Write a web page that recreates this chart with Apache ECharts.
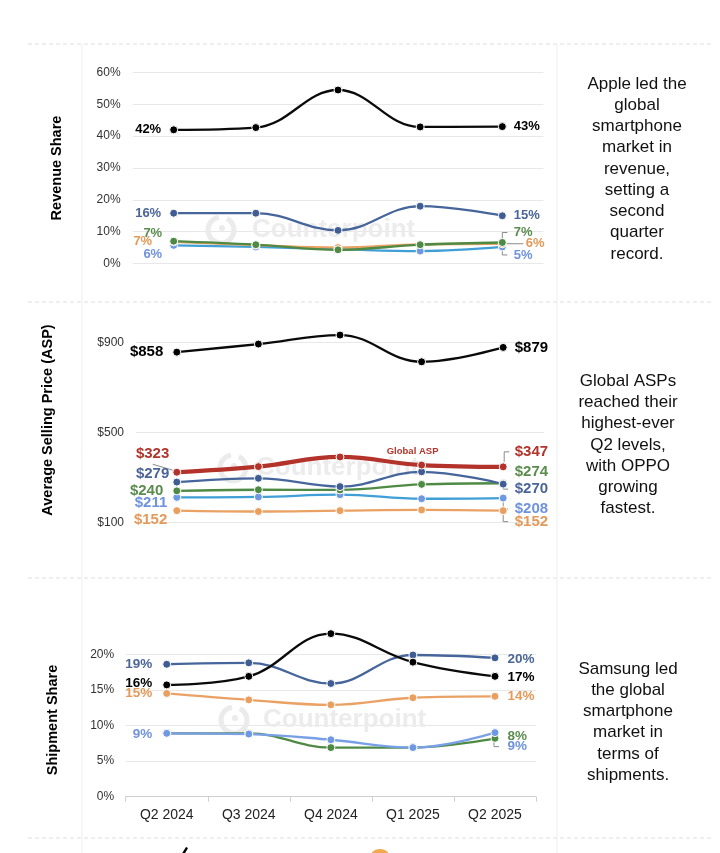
<!DOCTYPE html>
<html><head><meta charset="utf-8">
<script src="https://cdn.jsdelivr.net/npm/echarts@6/dist/echarts.min.js"></script>
<style>html,body{margin:0;padding:0;background:#fff}#c{width:720px;height:853px}</style>
</head><body><div id="c"></div>
<script>
// ---------------- DATA ----------------
const quarters = ['Q2 2024', 'Q3 2024', 'Q4 2024', 'Q1 2025', 'Q2 2025'];

// Revenue share (%)
const appleRev   = [42, 42.7, 54.5, 42.9, 43];
const samsungRev = [15.8, 15.8, 10.4, 18.0, 15.0];
const oppoRev    = [7.0, 5.9, 4.3, 5.9, 6.6];
const xiaomiRev  = [6.8, 5.8, 5.0, 6.0, 6.2];
const vivoRev    = [5.7, 5.2, 4.5, 3.9, 5.2];

// Average selling price (US$)
const appleAsp   = [858, 894, 934, 815, 879];
const globalAsp  = [323, 348, 391, 355, 347];
const samsungAsp = [279, 296, 259, 325, 270];
const oppoAsp    = [240, 245, 244, 269, 274];
const vivoAsp    = [211, 213, 223, 205, 208];
const xiaomiAsp  = [152, 148, 152, 155, 152];

// Shipment share (%)
const appleShip   = [15.7, 16.9, 22.9, 18.9, 16.9];
const samsungShip = [18.6, 18.8, 15.9, 19.9, 19.5];
const xiaomiShip  = [14.5, 13.6, 12.9, 13.9, 14.1];
const vivoShip    = [8.9, 8.8, 8.0, 6.9, 9.0];
const oppoShip    = [8.9, 8.9, 6.9, 6.9, 8.2];

// Tick labels
const revTicks  = { min: 0, max: 60, interval: 10 };
const aspTicks  = { min: 100, max: 900, interval: 400 };
const shipTicks = { min: 0, max: 20, interval: 5 };

// ---------------- STYLE ----------------
const FONT = 'Liberation Sans, Arial, sans-serif';
const COL = {
  apple:   { line: '#0a0a0a', dot: '#000000', text: '#000000' },
  samsung: { line: '#46659b', dot: '#3f5d92', text: '#4a6596' },
  xiaomi:  { line: '#eaa264', dot: '#e99f5e', text: '#e39a5a' },
  vivo:    { line: '#3f9fd6', dot: '#6f98e2', text: '#6f93dc' },
  vivoB:   { line: '#79a0e6', dot: '#6f98e2', text: '#6f93dc' },
  oppo:    { line: '#4f8a45', dot: '#4f8a45', text: '#5a8c4e' },
  global:  { line: '#b3322a', dot: '#b3322a', text: '#b0352c' }
};

const chart = echarts.init(document.getElementById('c'), null, { renderer: 'canvas' });
const series = [];
const idx = {};

function pctFmt(p) { return Math.round(p.value) + '%'; }
function usdFmt(p) { return '$' + Math.round(p.value); }

// lab: {L:[distance,dx,dy], R:[distance,dx,dy]}
function add(id, grid, values, col, lab, fs, fmt, extra) {
  const data = values.map((v, i) => {
    const item = { value: v };
    let spec = null, pos = null;
    if (i === 0 && lab.L) { spec = lab.L; pos = 'left'; }
    if (i === values.length - 1 && lab.R) { spec = lab.R; pos = 'right'; }
    if (spec) {
      item.label = {
        show: true, position: pos, distance: spec[0], offset: [spec[1], spec[2]],
        color: col.text, fontWeight: 'bold', fontSize: fs, fontFamily: FONT, formatter: fmt
      };
    }
    return item;
  });
  idx[id] = series.length;
  series.push(Object.assign({
    id: id, type: 'line', xAxisIndex: grid, yAxisIndex: grid, data: data,
    smooth: 0.4, symbol: 'circle', symbolSize: 8, clip: false,
    lineStyle: { color: col.line, width: 2.3 },
    itemStyle: { color: col.dot, borderColor: '#ffffff', borderWidth: 1 },
    label: { show: false }, emphasis: { disabled: true }, silent: true
  }, extra || {}));
}

// Top panel — revenue share
add('vivoRev', 0, vivoRev, COL.vivo, { L: [7, 0, 9], R: [7, 0, 8] }, 13, pctFmt);
add('xiaomiRev', 0, xiaomiRev, COL.xiaomi, { L: [8, -9, 0], R: [7, 12, 0] }, 13, pctFmt);
add('oppoRev', 0, oppoRev, COL.oppo, { L: [7, 0, -8], R: [7, 0, -10] }, 13, pctFmt);
add('samsungRev', 0, samsungRev, COL.samsung, { L: [8, 0, 0], R: [7, 0, 0] }, 13, pctFmt);
add('appleRev', 0, appleRev, COL.apple, { L: [8, 0, 0], R: [7, 0, 0] }, 13, pctFmt);

// Middle panel — ASP
add('xiaomiAsp', 1, xiaomiAsp, COL.xiaomi, { L: [5, 0, 9], R: [7, 0, 11] }, 15, usdFmt);
add('vivoAsp', 1, vivoAsp, COL.vivo, { L: [5, 0, 5], R: [7, 0, 11] }, 15, usdFmt);
add('oppoAsp', 1, oppoAsp, COL.oppo, { L: [9, 0, 0], R: [7, 0, -11] }, 15, usdFmt);
add('samsungAsp', 1, samsungAsp, COL.samsung, { L: [3, 0, -8], R: [7, 0, 5] }, 15, usdFmt);
add('globalAsp', 1, globalAsp, COL.global, { L: [3, 0, -18], R: [7, 0, -15] }, 15, usdFmt,
  { lineStyle: { color: COL.global.line, width: 4.2 } });
add('appleAsp', 1, appleAsp, COL.apple, { L: [9, 0, 0], R: [7, 0, 0] }, 15, usdFmt);

// "Global ASP" tag on the Q1 2025 point of the global line
series[idx.globalAsp].data[3].label = {
  show: true, position: 'top', distance: 5, offset: [-9, 1],
  formatter: 'Global ASP', color: COL.global.text, fontWeight: 'bold', fontSize: 9.5, fontFamily: FONT
};

// Bottom panel — shipment share
add('oppoShip', 2, oppoShip, COL.oppo, { R: [8, 0, -2] }, 13.5, pctFmt);
add('vivoShip', 2, vivoShip, COL.vivoB, { L: [10, 0, 1], R: [8, 0, 14] }, 13.5, pctFmt);
add('xiaomiShip', 2, xiaomiShip, COL.xiaomi, { L: [10, 0, 0], R: [8, 0, 0] }, 13.5, pctFmt);
add('samsungShip', 2, samsungShip, COL.samsung, { L: [10, 0, 0], R: [8, 0, 1] }, 13.5, pctFmt);
add('appleShip', 2, appleShip, COL.apple, { L: [10, 0, -1.5], R: [8, 0, 1] }, 13.5, pctFmt);

const splitLine = { show: true, lineStyle: { color: '#e8e8e8', width: 1 } };
const yLab = { fontSize: 12, color: '#333', fontFamily: FONT, margin: 12 };

const option = {
  animation: false,
  backgroundColor: '#ffffff',
  grid: [
    { left: 132.6, top: 72.5, width: 410.8, height: 191 },
    { left: 136, top: 342.7, width: 408, height: 179.6 },
    { left: 125.7, top: 654.3, width: 410.3, height: 142.4 }
  ],
  xAxis: [
    { type: 'category', gridIndex: 0, data: quarters, show: false },
    { type: 'category', gridIndex: 1, data: quarters, show: false },
    { type: 'category', gridIndex: 2, data: quarters,
      axisLine: { show: true, lineStyle: { color: '#cfcfcf', width: 1 } },
      axisTick: { show: true, length: 5, lineStyle: { color: '#cfcfcf' } },
      axisLabel: { fontSize: 14, color: '#222', fontFamily: FONT, margin: 11 } }
  ],
  yAxis: [
    Object.assign({ type: 'value', gridIndex: 0, axisLine: { show: false }, axisTick: { show: false },
      splitLine: splitLine, axisLabel: Object.assign({}, yLab, { formatter: '{value}%' }) }, revTicks),
    Object.assign({ type: 'value', gridIndex: 1, axisLine: { show: false }, axisTick: { show: false },
      splitLine: splitLine, axisLabel: Object.assign({}, yLab, { formatter: '${value}' }) }, aspTicks),
    Object.assign({ type: 'value', gridIndex: 2, axisLine: { show: false }, axisTick: { show: false },
      splitLine: splitLine, axisLabel: Object.assign({}, yLab, { formatter: '{value}%', margin: 11.5 }) }, shipTicks)
  ],
  series: series
};
chart.setOption(option);

// ---------------- GRAPHICS ----------------
const graphics = [];
// panel separators
[44, 302, 578, 838].forEach(y => graphics.push({
  type: 'line', silent: true, z: 0,
  shape: { x1: 28, y1: y, x2: 713, y2: y },
  style: { stroke: '#dedede', lineWidth: 1, lineDash: [4, 3] }
}));
[82, 557].forEach(x => graphics.push({
  type: 'line', silent: true, z: 0,
  shape: { x1: x, y1: 44, x2: x, y2: 853 },
  style: { stroke: '#efefef', lineWidth: 1 }
}));

// watermarks
function watermark(cx, cy, tx) {
  graphics.push({ type: 'arc', silent: true, z: 0, shape: { cx: cx, cy: cy, r: 13, startAngle: -Math.PI * 0.35, endAngle: Math.PI * 1.45 },
    style: { stroke: '#ebebeb', lineWidth: 5, fill: null } });
  graphics.push({ type: 'circle', silent: true, z: 0, shape: { cx: cx + 1, cy: cy - 2, r: 3 }, style: { fill: '#ebebeb' } });
  graphics.push({ type: 'text', silent: true, z: 0, x: tx, y: cy,
    style: { text: 'Counterpoint', fontSize: 26, fontWeight: 'bold', fontFamily: FONT, fill: '#ececec', align: 'left', verticalAlign: 'middle' } });
}
watermark(221, 230, 252);
watermark(233, 468, 256);
watermark(234, 720, 263);

// y-axis titles
function yTitle(text, x, y) {
  graphics.push({ type: 'text', silent: true, x: x, y: y, rotation: Math.PI / 2,
    style: { text: text, fontSize: 14.5, fontWeight: 'bold', fontFamily: FONT, fill: '#000', align: 'center', verticalAlign: 'middle' } });
}
yTitle('Revenue Share', 57, 168);
yTitle('Average Selling Price (ASP)', 48, 420);
yTitle('Shipment Share', 53, 720);

// commentary text
function note(text, x, y) {
  graphics.push({ type: 'text', silent: true, x: x, y: y,
    style: { text: text, fontSize: 17, fontFamily: FONT, fill: '#111', align: 'center', verticalAlign: 'middle', lineHeight: 21.25 } });
}
note('Apple led the\nglobal\nsmartphone\nmarket in\nrevenue,\nsetting a\nsecond\nquarter\nrecord.', 637, 169);
note('Global ASPs\nreached their\nhighest-ever\nQ2 levels,\nwith OPPO\ngrowing\nfastest.', 628, 445);
note('Samsung led\nthe global\nsmartphone\nmarket in\nterms of\nshipments.', 628, 722);

// cut-off legend icons at the bottom edge
graphics.push({ type: 'polygon', silent: true, shape: { points: [[186, 847], [188, 848], [184, 855], [181, 855]] }, style: { fill: '#000' } });
graphics.push({ type: 'circle', silent: true, shape: { cx: 380, cy: 860, r: 11 }, style: { fill: '#f0a94e' } });

// leader lines, anchored on data points via the library's scales
const leaders = [
  ['oppoRev', 4, [[0, -4], [0, -10], [5, -10]]],
  ['xiaomiRev', 4, [[4, 0], [21, 0]]],
  ['vivoRev', 4, [[0, 4], [0, 8], [5, 8]]],
  ['globalAsp', 0, [[-24, -8], [-4, -2]]],
  ['globalAsp', 4, [[1, -5], [1, -15], [6, -15]]],
  ['samsungAsp', 4, [[0, 2], [0, 5], [5, 5]]],
  ['vivoAsp', 4, [[0, 4], [0, 11], [5, 11]]],
  ['xiaomiAsp', 4, [[0, 4], [0, 11], [5, 11]]],
  ['vivoShip', 4, [[-1, 6], [-1, 14], [4, 14]]]
];
leaders.forEach(([id, i, pts]) => {
  const s = series[idx[id]];
  const p = chart.convertToPixel({ seriesIndex: idx[id] }, [i, s.data[i].value]);
  graphics.push({ type: 'polyline', silent: true, z: 1,
    shape: { points: pts.map(d => [p[0] + d[0], p[1] + d[1]]) },
    style: { stroke: '#8a8a8a', lineWidth: 1, fill: null } });
});

chart.setOption({ graphic: graphics });
</script></body></html>
